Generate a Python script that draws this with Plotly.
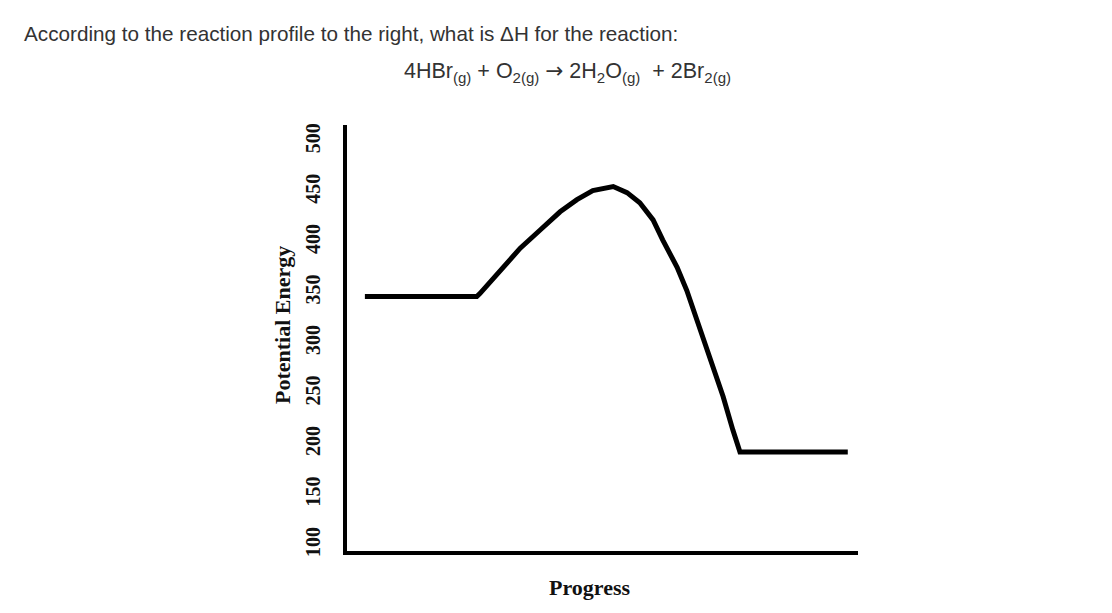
import plotly.graph_objects as go

# Reaction profile
progress = [3.5, 25.4, 26.0, 29.9, 33.9, 37.8, 41.7, 45.0, 48.1, 52.1, 54.8, 57.3, 59.9, 61.8,
            64.6, 66.5, 69.1, 71.6, 73.6, 75.5, 76.9, 98]
energy = [346, 346, 349, 372, 394, 412, 430, 442, 451, 455, 449, 439, 422, 402,
          375, 352, 313, 276, 247, 214, 192, 192]
y_ticks = [100, 150, 200, 250, 300, 350, 400, 450, 500]

question = "According to the reaction profile to the right, what is \u0394H for the reaction:"
equation = ("4HBr<sub>(g)</sub> + O<sub>2(g)</sub> "
            "<span style=\"font-family:'DejaVu Sans'\">\u2192</span> "
            "2H<sub>2</sub>O<sub>(g)</sub>  + 2Br<sub>2(g)</sub>")

serif = "Liberation Serif"
sans = "Liberation Sans"

# page has an 8px body margin; plot area placed to match the reference
L, R, T, B = 339, 262, 117, 70
PW = 1112 - L - R
PH = 613 - T - B


def px(xp):
    return (xp - 8 - L) / PW


def py(yp):
    return 1 - (yp - 8 - T) / PH


fig = go.Figure()
fig.add_trace(go.Scatter(
    x=progress, y=energy, mode="lines",
    line=dict(color="black", width=5, shape="linear"),
    hoverinfo="skip", showlegend=False,
))

fig.update_layout(
    width=1112, height=613,
    margin=dict(l=L, r=R, t=T, b=B),
    paper_bgcolor="white", plot_bgcolor="white",
    showlegend=False,
    xaxis=dict(
        range=[0, 100], showgrid=False, zeroline=False,
        showticklabels=False, ticks="",
        showline=True, linecolor="black", linewidth=4,
    ),
    yaxis=dict(
        range=[94, 516], showgrid=False, zeroline=False,
        tickvals=y_ticks, ticktext=["<b>%d</b>" % v for v in y_ticks],
        tickangle=-90,
        tickfont=dict(family=serif, size=20, color="#111"),
        ticks="outside", ticklen=15, tickcolor="rgba(0,0,0,0)",
        showline=True, linecolor="black", linewidth=4,
    ),
    annotations=[
        dict(text=question, xref="paper", yref="paper", x=px(22), y=py(33),
             xanchor="left", yanchor="middle", showarrow=False,
             font=dict(family=sans, size=20.7, color="#333")),
        dict(text=equation, xref="paper", yref="paper", x=px(567), y=py(72),
             xanchor="center", yanchor="middle", showarrow=False,
             font=dict(family=sans, size=21.5, color="#333")),
        dict(text="<b>Potential Energy</b>", xref="paper", yref="paper", x=px(282),
             y=py(325), xanchor="center", yanchor="middle", showarrow=False,
             textangle=-90, font=dict(family=serif, size=22, color="#111")),
        dict(text="<b>Progress</b>", xref="paper", yref="paper", x=px(589),
             y=py(587), xanchor="center", yanchor="middle", showarrow=False,
             font=dict(family=serif, size=22, color="#111")),
    ],
)

fig.write_html("out.html")
